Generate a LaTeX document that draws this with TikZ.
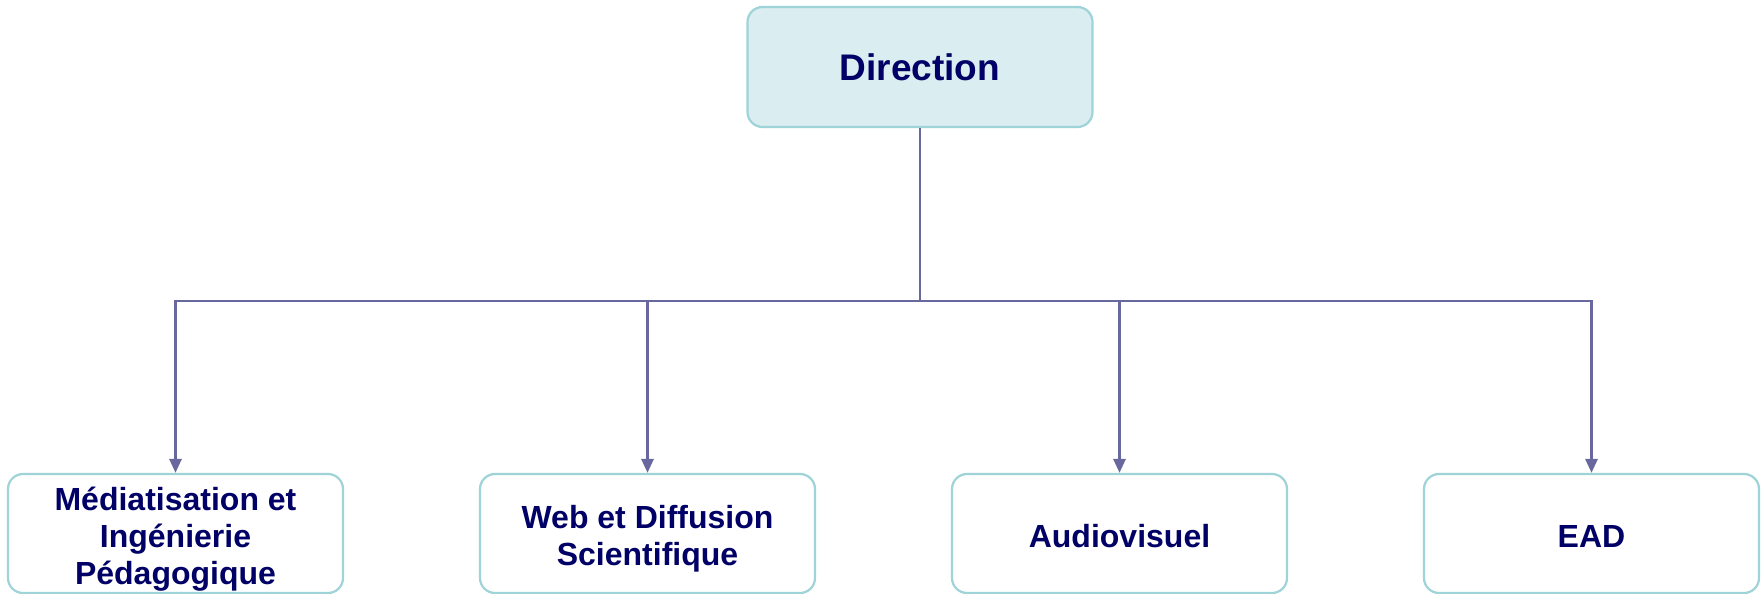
\documentclass[tikz,border=0pt]{standalone}
\usepackage{fontspec}
\setmainfont{Liberation Sans}
\usetikzlibrary{arrows.meta}
\definecolor{navy}{RGB}{0,0,102}
\definecolor{boxline}{RGB}{158,211,216}
\definecolor{boxfill}{RGB}{218,237,240}
\definecolor{conncol}{RGB}{104,104,158}
\newcommand{\boxtext}[1]{\raisebox{0pt}[\dimexpr\height+6.5pt\relax][\dimexpr\depth-6.5pt\relax]{\begin{tabular}{@{}c@{}}#1\end{tabular}}}
\tikzset{
  unitbox/.style={draw=boxline, line width=2.2pt, rounded corners=15pt, fill=white,
    minimum width=335pt, minimum height=119pt, inner sep=0pt, align=center,
    text=navy, font=\fontsize{32}{37}\selectfont\bfseries},
  headbox/.style={unitbox, fill=boxfill, minimum width=345pt, minimum height=120pt,
    font=\fontsize{37}{43}\selectfont\bfseries},
  conn/.style={draw=conncol, line width=2.8pt,
    -{Triangle[width=12pt,length=14pt]}}
}
\begin{document}
\begin{tikzpicture}[x=1pt,y=1pt]
\useasboundingbox (0,0) rectangle (1761,-594);
\node[headbox] (dir) at (920,-67) {Direction};
\node[unitbox] (c1) at (175.5,-533.5) {\boxtext{Médiatisation et\\Ingénierie\\Pédagogique}};
\node[unitbox] (c2) at (647.5,-533.5) {\boxtext{Web et Diffusion\\Scientifique}};
\node[unitbox] (c3) at (1119.5,-533.5) {\boxtext{Audiovisuel}};
\node[unitbox] (c4) at (1591.5,-533.5) {\boxtext{EAD}};
\coordinate (bus) at (920,-301);
\foreach \c in {c1,c2,c3,c4}{
  \draw[conn] (dir.south) -- (dir.south |- bus) -| (\c.north);
}
\end{tikzpicture}
\end{document}
